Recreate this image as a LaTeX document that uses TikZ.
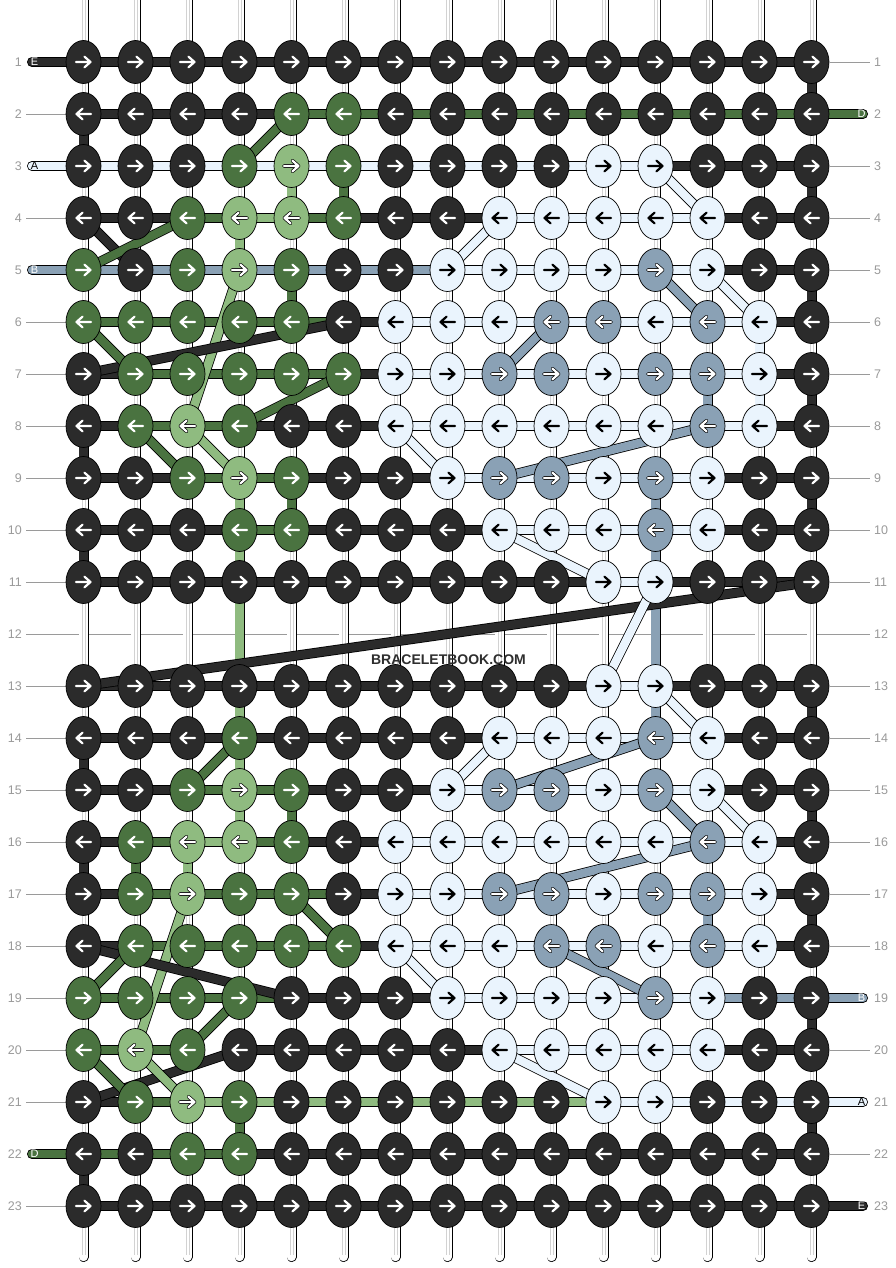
\documentclass[tikz,border=0pt]{standalone}
\usepackage{fontspec}
\setmainfont{Liberation Sans}
\usetikzlibrary{shapes.geometric}
\definecolor{cK}{HTML}{2B2B2B}
\definecolor{cG}{HTML}{4A7340}
\definecolor{cL}{HTML}{8FBB80}
\definecolor{cW}{HTML}{EAF4FD}
\definecolor{cS}{HTML}{8AA1B5}
\definecolor{lab}{HTML}{9A9A9A}
\tikzset{
 strand/.style={draw=black, line width=0.8pt, double=#1, double distance=8.4pt},
 rod/.style={draw=black, line width=0.8pt, double=white, double distance=8.4pt, line cap=round},
 knot/.style={ellipse, draw=black, line width=0.7pt, fill=#1, minimum width=35pt, minimum height=43pt, inner sep=0pt, outer sep=0pt},
 leader/.style={draw=lab, line width=0.7pt},
 rowlab/.style={text=lab, font=\fontsize{12.5}{14}\selectfont, inner sep=0pt},
 caplab/.style={font=\fontsize{11}{12}\selectfont, inner sep=0pt},
 arrK/.style={draw=white, line width=2.2pt, line cap=round, line join=round},
 arrG/.style={arrK},
 arrL/.style={arrK, preaction={draw=black, line width=3.6pt, line cap=round, line join=round}},
 arrS/.style={arrL},
 arrW/.style={draw=black, line width=2.2pt, line cap=round, line join=round},
}
\def\knotrows{1/{K,K,K,K,K,K,K,K,K,K,K,K,K,K,K},%
2/{K,K,K,K,G,G,K,K,K,K,K,K,K,K,K},%
3/{K,K,K,G,L,G,K,K,K,K,W,W,K,K,K},%
4/{K,K,G,L,L,G,K,K,W,W,W,W,W,K,K},%
5/{G,K,G,L,G,K,K,W,W,W,W,S,W,K,K},%
6/{G,G,G,G,G,K,W,W,W,S,S,W,S,W,K},%
7/{K,G,G,G,G,G,W,W,S,S,W,S,S,W,K},%
8/{K,G,L,G,K,K,W,W,W,W,W,W,S,W,K},%
9/{K,K,G,L,G,K,K,W,S,S,W,S,W,K,K},%
10/{K,K,K,G,G,K,K,K,W,W,W,S,W,K,K},%
11/{K,K,K,K,K,K,K,K,K,K,W,W,K,K,K},%
13/{K,K,K,K,K,K,K,K,K,K,W,W,K,K,K},%
14/{K,K,K,G,K,K,K,K,W,W,W,S,W,K,K},%
15/{K,K,G,L,G,K,K,W,S,S,W,S,W,K,K},%
16/{K,G,L,L,G,K,W,W,W,W,W,W,S,W,K},%
17/{K,G,L,G,G,K,W,W,S,S,W,S,S,W,K},%
18/{K,G,G,G,G,G,W,W,W,S,S,W,S,W,K},%
19/{G,G,G,G,K,K,K,W,W,W,W,S,W,K,K},%
20/{G,L,G,K,K,K,K,K,W,W,W,W,W,K,K},%
21/{K,G,L,G,K,K,K,K,K,K,W,W,K,K,K},%
22/{K,K,G,G,K,K,K,K,K,K,K,K,K,K,K},%
23/{K,K,K,K,K,K,K,K,K,K,K,K,K,K,K}}
\def\segrows{1/{K,K,K,K,K,K,K,K,K,K,K,K,K,K},%
2/{K,K,K,K,G,G,G,G,G,G,G,G,G,G},%
3/{W,W,W,W,W,W,W,W,W,W,W,K,K,K},%
4/{K,K,G,L,G,K,K,K,W,W,W,W,K,K},%
5/{S,S,S,S,S,S,S,W,W,W,W,W,K,K},%
6/{G,G,G,G,G,K,W,W,W,W,W,W,W,K},%
7/{K,G,G,G,G,K,W,W,W,W,W,W,W,K},%
8/{K,G,G,K,K,K,W,W,W,W,W,W,W,K},%
9/{K,K,G,G,K,K,K,W,W,W,W,W,K,K},%
10/{K,K,K,G,K,K,K,K,W,W,W,W,K,K},%
11/{K,K,K,K,K,K,K,K,K,K,W,K,K,K},%
13/{K,K,K,K,K,K,K,K,K,K,W,K,K,K},%
14/{K,K,K,K,K,K,K,K,W,W,W,W,K,K},%
15/{K,K,G,G,K,K,K,W,W,W,W,W,K,K},%
16/{K,G,L,G,K,K,W,W,W,W,W,W,W,K},%
17/{K,G,G,G,G,K,W,W,W,W,W,W,W,K},%
18/{K,G,G,G,G,K,W,W,W,W,W,W,W,K},%
19/{G,G,G,G,K,K,K,W,W,W,W,W,S,S},%
20/{G,G,N,K,K,K,K,K,W,W,W,W,K,K},%
21/{K,G,L,L,L,L,L,L,L,L,W,W,W,W},%
22/{G,G,G,K,K,K,K,K,K,K,K,K,K,K},%
23/{K,K,K,K,K,K,K,K,K,K,K,K,K,K}}
\begin{document}
\begin{tikzpicture}[x=1pt,y=-1pt]
\fill[white] (0,0) rectangle (896,1268);
\useasboundingbox (0,0) rectangle (896,1268);
% coordinates
\foreach \r in {1,...,23}{
  \foreach \i in {0,...,14}{
    \pgfmathsetmacro\xx{83.5+52*\i}
    \pgfmathsetmacro\yy{62+52*(\r-1)}
    \coordinate (p-\r-\i) at (\xx,\yy);
  }
}
% row 12 guide line
\draw[leader] (26,634) -- (870,634);
% leaders and labels
\foreach \r in {1,...,23}{
  \pgfmathsetmacro\yy{62+52*(\r-1)}
  \node[rowlab, anchor=east] (lL\r) at (22,\yy) {\r};
  \node[rowlab, anchor=west] (lR\r) at (874,\yy) {\r};
}
\foreach \r in {2,4,6,7,8,9,10,11,13,14,15,16,17,18,19,20,21,23}{
  \pgfmathsetmacro\yy{62+52*(\r-1)}
  \draw[leader] (26,\yy) -- (66,\yy);
}
\foreach \r in {1,3,4,5,6,7,8,9,10,11,13,14,15,16,17,18,20,22}{
  \pgfmathsetmacro\yy{62+52*(\r-1)}
  \draw[leader] (830,\yy) -- (870,\yy);
}
% vertical base strings
\foreach \i in {0,...,14}{
  \pgfmathsetmacro\xx{83.5+52*\i}
  \draw[rod] (\xx,-10) -- (\xx,1257);
  \draw[gray!35, line width=0.45pt] (\xx-1.6,-10) -- (\xx-1.6,1255) (\xx+1.6,-10) -- (\xx+1.6,1255);
}
% horizontal working strands
\foreach \r/\lst in \segrows{
  \foreach \c [count=\i from 0] in \lst{
    \pgfmathtruncatemacro\j{\i+1}
    \if\c N\else
      \draw[strand=c\c] (p-\r-\i) -- (p-\r-\j);
    \fi
  }
}
% end caps
\draw[strand=cK, line cap=round] (32,62) -- (p-1-0);
\draw[strand=cW, line cap=round] (32,166) -- (p-3-0);
\draw[strand=cS, line cap=round] (32,270) -- (p-5-0);
\draw[strand=cG, line cap=round] (32,1154) -- (p-22-0);
\draw[strand=cG, line cap=round] (p-2-14) -- (863,114);
\draw[strand=cS, line cap=round] (p-19-14) -- (863,998);
\draw[strand=cW, line cap=round] (p-21-14) -- (863,1102);
\draw[strand=cK, line cap=round] (p-23-14) -- (863,1206);
\node[caplab, text=white] (capE1) at (34.5,62) {E};
\node[caplab, text=black] (capA1) at (34.5,166) {A};
\node[caplab, text=white] (capB1) at (34.5,270) {B};
\node[caplab, text=white] (capD1) at (34.5,1154) {D};
\node[caplab, text=white] (capD2) at (861.5,114) {D};
\node[caplab, text=white] (capB2) at (861.5,998) {B};
\node[caplab, text=black] (capA2) at (861.5,1102) {A};
\node[caplab, text=white] (capE2) at (861.5,1206) {E};
% vertical connectors and diagonal strands
\foreach \c/\ra/\ca/\rb/\cb in {K/1/14/2/14,K/3/14/4/14,K/5/14/6/14,K/7/14/8/14,K/9/14/10/14,K/13/14/14/14,K/15/14/16/14,K/17/14/18/14,K/19/14/20/14,K/21/14/22/14,%
K/2/0/3/0,K/8/0/9/0,K/10/0/11/0,K/14/0/15/0,K/16/0/17/0,K/22/0/23/0,%
L/3/4/4/4,G/3/5/4/5,L/4/3/5/3,G/5/4/6/4,S/7/12/8/12,L/9/3/10/3,G/9/4/10/4,S/9/11/10/11,L/10/3/11/3,S/10/11/11/11,L/11/3/13/3,S/11/11/13/11,L/13/3/14/3,S/13/11/14/11,L/14/3/15/3,L/15/3/16/3,G/15/4/16/4,G/16/1/17/1,L/16/2/17/2,S/17/12/18/12,G/21/3/22/3,W/6/13/7/13,W/7/13/8/13,%
G/2/4/3/3,K/4/0/5/1,G/4/2/5/0,W/4/8/5/7,W/3/11/4/12,S/5/11/6/12,W/5/12/6/13,L/5/3/8/2,K/6/5/7/0,G/6/0/7/1,S/6/9/7/8,G/7/5/8/3,G/8/1/9/2,L/8/2/9/3,W/8/6/9/7,S/8/12/9/8,W/10/8/11/10,K/11/14/13/0,W/11/11/13/10,%
W/13/11/14/12,W/14/8/15/7,S/14/11/15/8,G/14/3/15/2,S/15/11/16/12,W/15/12/16/13,S/16/12/17/8,G/17/4/18/5,L/17/2/20/1,K/18/0/19/4,G/18/1/19/0,W/18/6/19/7,S/18/9/19/11,G/19/3/20/2,K/20/3/21/0,G/20/0/21/1,L/20/1/21/2,W/20/8/21/10}{
  \draw[strand=c\c] (p-\ra-\ca) -- (p-\rb-\cb);
}
% knots
\foreach \r/\lst in \knotrows{
  \foreach \c [count=\i from 0] in \lst{
    \node[knot=c\c] (k-\r-\i) at (p-\r-\i) {};
    \ifodd\r \def\dir{1}\else\def\dir{-1}\fi
    \draw[arr\c, shift={(p-\r-\i)}, xscale=\dir] (-7.5,0) -- (7,0) (1,-5.3) -- (7,0) -- (1,5.3);
  }
}
\node[font=\bfseries\fontsize{14}{16}\selectfont, text=black!82, inner sep=0pt] (logo) at (448.5,660) {BRACELETBOOK.COM};
\end{tikzpicture}
\end{document}
